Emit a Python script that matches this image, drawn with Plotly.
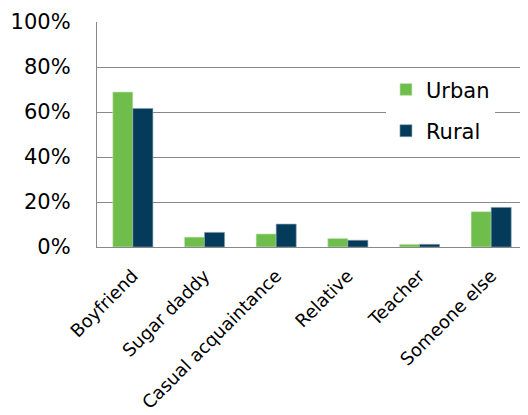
import plotly.graph_objects as go

categories = ["Boyfriend", "Sugar daddy", "Casual acquaintance", "Relative", "Teacher", "Someone else"]
urban = [0.689, 0.044, 0.058, 0.038, 0.012, 0.157]
rural = [0.616, 0.065, 0.102, 0.030, 0.012, 0.176]
y_ticks = [0, 0.2, 0.4, 0.6, 0.8, 1.0]

FONT = "DejaVu Sans"

fig = go.Figure()
fig.add_trace(go.Bar(x=categories, y=urban, name="Urban", legendgroup="u",
                     marker=dict(color="#6FBE4B", line=dict(color="#cfe8c4", width=0.6))))
fig.add_trace(go.Bar(x=categories, y=rural, name="Rural", legendgroup="r",
                     marker=dict(color="#053B5A", line=dict(color="#8aa3b3", width=0.6))))

fig.update_layout(
    width=528, height=415,
    margin=dict(l=89, r=9, t=14, b=176, autoexpand=False),
    paper_bgcolor="white", plot_bgcolor="white",
    barmode="group", bargap=0.44, bargroupgap=0,
    font=dict(family=FONT, color="black"),
    showlegend=True,
    legend=dict(x=0.672, y=0.79, xanchor="left", yanchor="top",
                bgcolor="white", borderwidth=0, font=dict(size=21, family=FONT),
                traceorder="grouped", tracegroupgap=11),
)
fig.update_yaxes(range=[0, 1], tickvals=y_ticks, tickformat=".0%",
                 showgrid=True, gridcolor="#888888", gridwidth=1.4,
                 showline=True, linecolor="#888888", linewidth=1.4,
                 tickfont=dict(size=21, family=FONT), ticks="", ticklabelstandoff=21,
                 zeroline=False, fixedrange=True, automargin=False)
fig.update_xaxes(showline=True, linecolor="#888888", linewidth=1.4, tickangle=-45,
                 tickfont=dict(size=18, family=FONT), ticks="", ticklabelstandoff=10,
                 fixedrange=True, automargin=False)

fig.write_html("out.html")
